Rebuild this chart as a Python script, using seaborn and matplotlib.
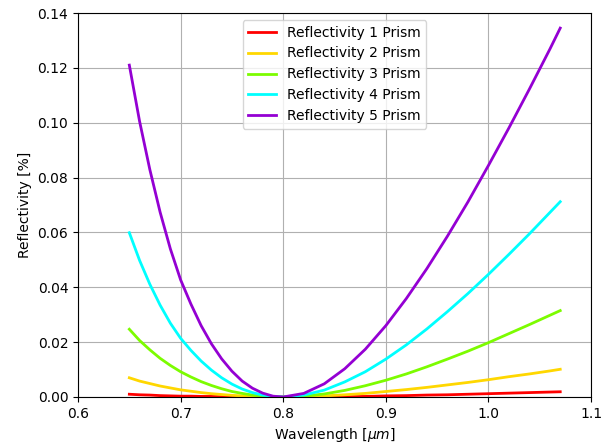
import numpy as np
import pandas as pd
import matplotlib
matplotlib.use("Agg")
import matplotlib.pyplot as plt
import seaborn as sns

# wavelengths in micrometres
wavelength = [0.65, 0.66, 0.67, 0.68, 0.69, 0.70, 0.71, 0.72, 0.73, 0.74, 0.75,
              0.76, 0.77, 0.78, 0.79, 0.80, 0.82, 0.84, 0.86, 0.88, 0.90, 0.92,
              0.94, 0.96, 0.98, 1.00, 1.02, 1.04, 1.06, 1.07]

refl_1 = [0.0010, 0.0008, 0.0007, 0.0005, 0.0004, 0.0003, 0.0003, 0.0002, 0.0002, 0.0001, 0.0001,
          0.0000, 0.0000, 0.0000, 0.0000, 0.0000, 0.0000, 0.0001, 0.0001, 0.0002, 0.0004, 0.0005,
          0.0007, 0.0008, 0.0010, 0.0012, 0.0014, 0.0016, 0.0018, 0.0019]
refl_2 = [0.0070, 0.0058, 0.0049, 0.0040, 0.0033, 0.0026, 0.0021, 0.0016, 0.0012, 0.0009, 0.0006,
          0.0004, 0.0002, 0.0001, 0.0000, 0.0000, 0.0001, 0.0004, 0.0008, 0.0013, 0.0020, 0.0027,
          0.0035, 0.0044, 0.0053, 0.0063, 0.0074, 0.0084, 0.0095, 0.0101]
refl_3 = [0.0247, 0.0206, 0.0172, 0.0141, 0.0115, 0.0092, 0.0073, 0.0056, 0.0042, 0.0030, 0.0020,
          0.0013, 0.0007, 0.0003, 0.0001, 0.0000, 0.0003, 0.0011, 0.0024, 0.0041, 0.0061, 0.0084,
          0.0110, 0.0138, 0.0167, 0.0198, 0.0231, 0.0264, 0.0298, 0.0315]
refl_4 = [0.0599, 0.0498, 0.0411, 0.0335, 0.0269, 0.0214, 0.0170, 0.0131, 0.0098, 0.0070, 0.0047,
          0.0029, 0.0016, 0.0007, 0.0002, 0.0000, 0.0007, 0.0025, 0.0055, 0.0092, 0.0138, 0.0190,
          0.0248, 0.0311, 0.0377, 0.0447, 0.0520, 0.0595, 0.0673, 0.0712]
refl_5 = [0.1210, 0.1005, 0.0829, 0.0674, 0.0540, 0.0427, 0.0339, 0.0260, 0.0194, 0.0139, 0.0094,
          0.0058, 0.0032, 0.0014, 0.0003, 0.0000, 0.0013, 0.0048, 0.0103, 0.0174, 0.0260, 0.0359,
          0.0468, 0.0586, 0.0711, 0.0844, 0.0981, 0.1123, 0.1269, 0.1345]

labels = ['Reflectivity 1 Prism', 'Reflectivity 2 Prism', 'Reflectivity 3 Prism',
          'Reflectivity 4 Prism', 'Reflectivity 5 Prism']
colors = ['red', 'gold', 'lawngreen', 'cyan', 'darkviolet']

frames = []
for lab, vals in zip(labels, [refl_1, refl_2, refl_3, refl_4, refl_5]):
    frames.append(pd.DataFrame({'wl': wavelength, 'R': vals, 'series': lab}))
df = pd.concat(frames, ignore_index=True)

fig, ax = plt.subplots(figsize=(6.12, 4.44), dpi=100)
fig.subplots_adjust(left=0.1275, right=0.9657, top=0.9707, bottom=0.1059)

sns.lineplot(data=df, x='wl', y='R', hue='series', hue_order=labels,
             palette=colors, linewidth=2, ax=ax)

ax.set_xlim(0.6, 1.1)
ax.set_ylim(0, 0.14)
ax.set_xticks(np.arange(0.6, 1.11, 0.1))
ax.set_yticks(np.arange(0, 0.141, 0.02))
ax.grid(True, color='#b0b0b0', linewidth=0.8)
ax.set_xlabel(r'Wavelength [$\mu m$]')
ax.set_ylabel('Reflectivity [%]')
ax.legend(loc='upper center', title=None)

plt.savefig('out.png', dpi=100)
